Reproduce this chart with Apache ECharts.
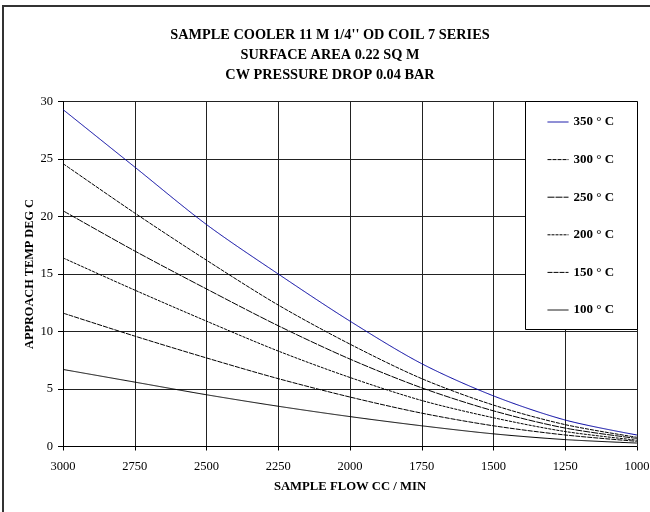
<!DOCTYPE html>
<html>
<head>
<meta charset="utf-8">
<script src="https://cdn.jsdelivr.net/npm/echarts@6/dist/echarts.min.js"></script>
<style>
html,body{margin:0;padding:0;background:#fff;}
#chart{width:650px;height:512px;}
</style>
</head>
<body>
<div id="chart"></div>
<script>
// Data
const flows = [3000, 2750, 2500, 2250, 2000, 1750, 1500, 1250, 1000];
const t350 = [29.3, 24.3, 19.3, 15.0, 10.9, 7.2, 4.4, 2.3, 1.0];
const t300 = [24.6, 20.3, 16.2, 12.3, 8.9, 5.9, 3.6, 1.9, 0.8];
const t250 = [20.5, 17.0, 13.7, 10.5, 7.6, 5.1, 3.1, 1.6, 0.7];
const t200 = [16.4, 13.6, 10.9, 8.3, 6.0, 4.0, 2.5, 1.3, 0.55];
const t150 = [11.6, 9.6, 7.7, 5.9, 4.3, 2.9, 1.8, 1.0, 0.45];
const t100 = [6.7, 5.6, 4.5, 3.5, 2.6, 1.8, 1.1, 0.6, 0.3];
const seriesNames = ['350 ° C', '300 ° C', '250 ° C', '200 ° C', '150 ° C', '100 ° C'];
const seriesValues = [t350, t300, t250, t200, t150, t100];
const titleLines = ["SAMPLE COOLER 11 M 1/4'' OD COIL 7 SERIES", 'SURFACE AREA 0.22 SQ M', 'CW PRESSURE DROP 0.04 BAR'];
const xTitle = 'SAMPLE FLOW CC / MIN';
const yTitle = 'APPROACH TEMP DEG C';

const colors = ['#0000a0', '#000', '#000', '#000', '#000', '#000'];
const dashes = [[1,0], [4,1], [7,1], [3,1], [5,1], [1,0]];
const font = '"Liberation Serif", "Times New Roman", serif';

const chart = echarts.init(document.getElementById('chart'));
chart.setOption({
  animation: false,
  backgroundColor: '#fff',
  grid: { left: 63, right: 13, top: 101.5, bottom: 65.5, outerBoundsMode: 'none', containLabel: false },
  legend: {
    orient: 'vertical',
    left: 547,
    top: 115.5,
    padding: 0,
    itemWidth: 21,
    itemHeight: 14,
    itemGap: 24.6,
    z: 20,
    data: seriesNames,
    itemStyle: { opacity: 0 },
    lineStyle: { width: 1 },
    textStyle: { fontFamily: font, fontSize: 13, fontWeight: 'bold', color: '#000' }
  },
  graphic: [
    { type: 'rect', z: 0, silent: true, shape: { x: 3, y: 6, width: 700, height: 600 },
      style: { fill: 'none', stroke: '#333', lineWidth: 2 } },
    { type: 'rect', z: 10, silent: true, shape: { x: 525.5, y: 101.5, width: 112, height: 228 },
      style: { fill: '#fff', stroke: '#000', lineWidth: 1 } },
    { type: 'text', z: 10, silent: true, x: 330, y: 25.5,
      style: { text: titleLines.join('\n'), align: 'center', verticalAlign: 'top',
        fontFamily: font, fontSize: 14.3, fontWeight: 'bold', fill: '#000', lineHeight: 19.75 } }
  ],
  xAxis: {
    type: 'value',
    inverse: true,
    min: 1000, max: 3000, interval: 250,
    name: xTitle,
    nameLocation: 'middle',
    nameGap: 34,
    nameMoveOverlap: false,
    nameTextStyle: { fontFamily: font, fontSize: 12.7, fontWeight: 'bold', color: '#000' },
    axisLine: { lineStyle: { color: '#000', width: 1 } },
    axisTick: { show: true, length: 4, lineStyle: { color: '#000' } },
    axisLabel: { margin: 13.5, fontFamily: font, fontSize: 12.5, color: '#000', formatter: v => String(v) },
    splitLine: { show: true, lineStyle: { color: '#222', width: 1 } }
  },
  yAxis: {
    type: 'value',
    min: 0, max: 30, interval: 5,
    name: yTitle,
    nameLocation: 'middle',
    nameGap: 27,
    nameMoveOverlap: false,
    nameRotate: 90,
    nameTextStyle: { fontFamily: font, fontSize: 12.3, fontWeight: 'bold', color: '#000' },
    axisLine: { show: true, lineStyle: { color: '#000', width: 1 } },
    axisTick: { show: true, length: 5, lineStyle: { color: '#000' } },
    axisLabel: { margin: 10, fontFamily: font, fontSize: 12.5, color: '#000' },
    splitLine: { show: true, lineStyle: { color: '#222', width: 1 } }
  },
  series: seriesNames.map((name, i) => ({
    name: name,
    type: 'line',
    symbol: 'none',
    smooth: 0.3,
    z: 3,
    lineStyle: { color: colors[i], width: 1, type: dashes[i] },
    itemStyle: { color: colors[i] },
    data: flows.map((f, j) => [f, seriesValues[i][j]])
  }))
});
</script>
</body>
</html>
